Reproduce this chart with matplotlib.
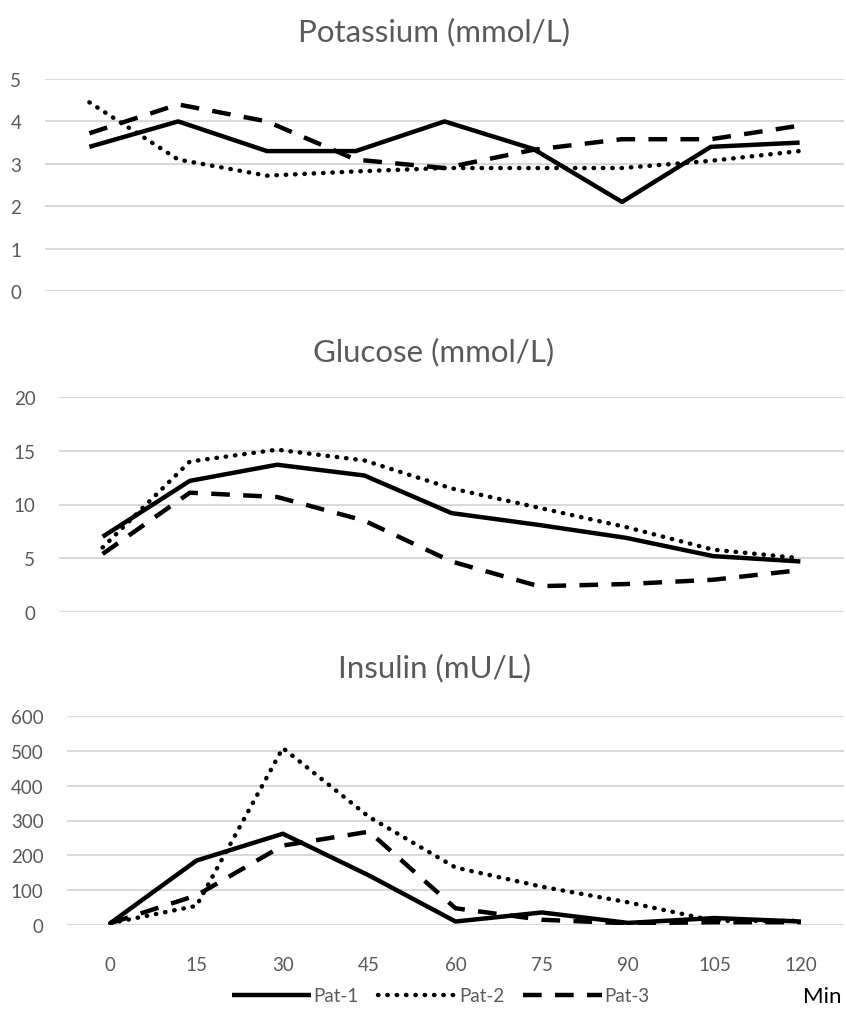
import matplotlib
matplotlib.use("Agg")
import matplotlib.pyplot as plt
from matplotlib.lines import Line2D

plt.rcParams['font.family'] = ['Lato', 'DejaVu Sans']

minutes = [0, 15, 30, 45, 60, 75, 90, 105, 120]

# Potassium (mmol/L)
k_pat1 = [3.4, 4.0, 3.3, 3.3, 4.0, 3.35, 2.1, 3.4, 3.5]
k_pat2 = [4.45, 3.1, 2.72, 2.82, 2.9, 2.9, 2.9, 3.07, 3.3]
k_pat3 = [3.72, 4.4, 4.0, 3.1, 2.9, 3.33, 3.58, 3.58, 3.9]

# Glucose (mmol/L)
g_pat1 = [7.0, 12.2, 13.7, 12.7, 9.2, 8.1, 6.9, 5.2, 4.7]
g_pat2 = [6.0, 14.0, 15.1, 14.1, 11.5, 9.7, 7.9, 5.8, 5.0]
g_pat3 = [5.4, 11.1, 10.7, 8.5, 4.7, 2.4, 2.6, 3.0, 3.9]

# Insulin (mU/L)
i_pat1 = [5, 185, 262, 142, 10, 36, 6, 20, 10]
i_pat2 = [5, 55, 508, 310, 165, 110, 65, 12, 12]
i_pat3 = [5, 85, 228, 268, 48, 15, 5, 8, 8]

titles = ['Potassium (mmol/L)', 'Glucose (mmol/L)', 'Insulin (mU/L)']
ylims = [(0, 5, 1), (0, 20, 5), (0, 600, 100)]
series = [(k_pat1, k_pat2, k_pat3), (g_pat1, g_pat2, g_pat3), (i_pat1, i_pat2, i_pat3)]
labels = ['Pat-1', 'Pat-2', 'Pat-3']

W, H = 846, 1012
fig = plt.figure(figsize=(W / 100, H / 100), dpi=100)

gray = '#595959'
grid = '#d9d9d9'
styles = [dict(linestyle='-', solid_capstyle='butt'),
          dict(linestyle=(0, (0.1, 2.0)), dash_capstyle='round'),
          dict(linestyle=(0, (4.2, 3.0)), dash_capstyle='butt')]

# pixel boxes: left, top (max gridline), bottom (0 gridline), title y
boxes = [(45, 80, 292, 32), (59, 398, 613, 352), (67, 717, 926, 668)]
right_px = 844
pos = list(range(len(minutes)))

for k, (left, top, bottom, ty) in enumerate(boxes):
    ax = fig.add_axes([left / W, 1 - bottom / H, (right_px - left) / W, (bottom - top) / H])
    lo, hi, step = ylims[k]
    for yv in range(lo, hi + 1, step):
        ax.axhline(yv, color=grid, lw=1.5, zorder=0)
    for vals, lab, st in zip(series[k], labels, styles):
        ax.plot(pos, vals, color='black', lw=3.2, label=lab, **st)
    ax.set_ylim(lo, hi)
    ax.set_yticks(range(lo, hi + 1, step))
    ax.set_xlim(-0.5, len(minutes) - 0.5)
    ax.set_xticks(pos)
    ax.set_xticklabels([str(m) for m in minutes])
    for s in ax.spines.values():
        s.set_visible(False)
    ax.tick_params(length=0, colors=gray, labelsize=13.5, pad=17)
    if k < 2:
        ax.tick_params(axis='x', labelbottom=False)
    else:
        ax.tick_params(axis='x', pad=22)
    ax.patch.set_alpha(0)
    fig.text(434 / W, 1 - ty / H, titles[k], ha='center', va='center',
             fontsize=22.5, color=gray)

handles = [Line2D([], [], color='black', lw=3.2, **st) for st in styles]
fig.legend(handles, labels, loc='center', bbox_to_anchor=(441 / W, 1 - 997 / H),
           ncol=3, frameon=False, fontsize=13.5, handlelength=4.2,
           handletextpad=0.15, columnspacing=1.0, labelcolor=gray)
fig.text(803 / W, 1 - 997 / H, 'Min', ha='left', va='center', fontsize=16, color='black')

fig.savefig('out.png', dpi=100)
